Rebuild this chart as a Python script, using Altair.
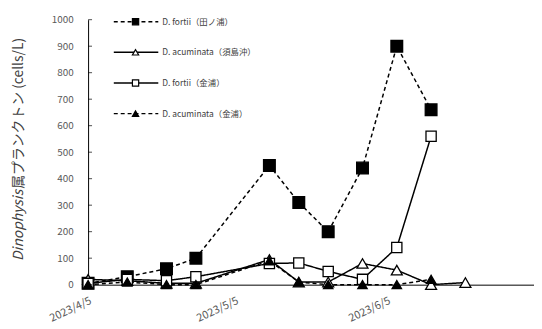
import altair as alt
import pandas as pd

dates = ["2023-04-05", "2023-04-13", "2023-04-21", "2023-04-27", "2023-05-12",
         "2023-05-18", "2023-05-24", "2023-05-31", "2023-06-07", "2023-06-14", "2023-06-21"]
series = ["D. fortii（田ノ浦）", "D. acuminata（須島沖）", "D. fortii（金浦）", "D. acuminata（金浦）"]
fortii_a = [5, 30, 60, 100, 450, 310, 200, 440, 900, 660, None]
acum_b = [20, 15, 5, 5, 95, 10, 10, 80, 55, 0, 8]
fortii_c = [5, 20, 15, 30, 80, 82, 50, 20, 140, 560, None]
acum_d = [0, 10, 0, 0, 90, 10, 0, 0, 0, 20, None]
y_ticks = [0, 100, 200, 300, 400, 500, 600, 700, 800, 900, 1000]
x_ticks = ["2023-04-05", "2023-05-05", "2023-06-05"]
x_domain = ["2023-04-05", "2023-07-05"]

rows = []
for name, vals in zip(series, [fortii_a, acum_b, fortii_c, acum_d]):
    for d, v in zip(dates, vals):
        if v is not None:
            rows.append({"date": d, "value": v, "series": name})
df = pd.DataFrame(rows)

def dt(s):
    y, m, d = [int(p) for p in s.split("-")]
    return alt.DateTime(year=y, month=m, date=d, utc=True)

FONT = "Noto Sans CJK JP"
dash_range = [[4, 3], [1, 0], [1, 0], [4, 3]]
shape_range = ["square", "triangle-up", "square", "triangle-up"]
fill_range = ["black", "white", "white", "black"]
size_range = [140, 90, 140, 90]

xenc = alt.X("date:T", scale=alt.Scale(type="utc", domain=[dt(x_domain[0]), dt(x_domain[1])]),
             axis=alt.Axis(values=[dt(s) for s in x_ticks],
                           labelExpr="utcFormat(datum.value, '%Y/%-m/%-d')",
                           labelAngle=335, labelAlign="right", labelBaseline="top",
                           labelPadding=10, tickSize=0, grid=False, title=None,
                           domainColor="black", labelColor="#595959", labelFontSize=11,
                           labelFont=FONT, labelOverlap=False))
yenc = alt.Y("value:Q", scale=alt.Scale(domain=[0, 1000], nice=False),
             axis=alt.Axis(values=y_ticks, format="d", tickSize=0, labelPadding=15, grid=False,
                           title=None, labelOverlap=False,
                           domainColor="black", labelColor="#595959", labelFontSize=10,
                           labelFont=FONT))

base = alt.Chart(df)
lines = base.mark_line(color="black", strokeWidth=1.5).encode(
    x=xenc, y=yenc, detail="series:N",
    strokeDash=alt.StrokeDash("series:N", scale=alt.Scale(domain=series, range=dash_range), legend=None),
)
points = base.mark_point(filled=True, stroke="black", strokeWidth=1.3, opacity=1).encode(
    x=xenc, y=yenc,
    shape=alt.Shape("series:N", scale=alt.Scale(domain=series, range=shape_range), legend=None),
    fill=alt.Fill("series:N", scale=alt.Scale(domain=series, range=fill_range), legend=None),
    size=alt.Size("series:N", scale=alt.Scale(domain=series, range=size_range), legend=None),
)

tick_df = pd.DataFrame({"value": y_ticks})
yticks = alt.Chart(tick_df).mark_tick(color="black", size=4, thickness=1).encode(
    y=yenc, x=alt.value(2))

layers = [lines, points, yticks]

# legend
for i, name in enumerate(series):
    ly = 2 + i * 31
    ld = alt.Data(values=[{"label": name}])
    layers.append(alt.Chart(ld).mark_rule(color="black", strokeWidth=1.5, strokeDash=dash_range[i]).encode(
        x=alt.value(26), x2=alt.value(71), y=alt.value(ly)))
    layers.append(alt.Chart(ld).mark_point(filled=True, stroke="black", strokeWidth=1.2, opacity=1,
                                           shape=shape_range[i], fill=fill_range[i], size=40).encode(
        x=alt.value(48), y=alt.value(ly)))
    layers.append(alt.Chart(ld).mark_text(align="left", baseline="middle", font=FONT, fontSize=8.5,
                                          color="#404040").encode(
        x=alt.value(75), y=alt.value(ly), text="label:N"))

# y-axis title with italic genus name
td = alt.Data(values=[{"a": "Dinophysis", "b": "属プランクトン (cells/L)"}])
layers.append(alt.Chart(td).mark_text(angle=270, align="left", baseline="middle", font=FONT,
                                      fontSize=14, fontStyle="italic", color="#404040").encode(
    x=alt.value(-70), y=alt.value(244), text="a:N"))
layers.append(alt.Chart(td).mark_text(angle=270, align="left", baseline="middle", font=FONT,
                                      fontSize=14, color="#404040").encode(
    x=alt.value(-70), y=alt.value(171), text="b:N"))

chart = alt.layer(*layers).properties(
    width=451, height=268,
    padding={"left": 81, "top": 10, "right": 0, "bottom": 42},
    autosize="none",
).configure_view(stroke=None)

chart.save("out.html", embed_options={"renderer": "svg", "actions": False})
